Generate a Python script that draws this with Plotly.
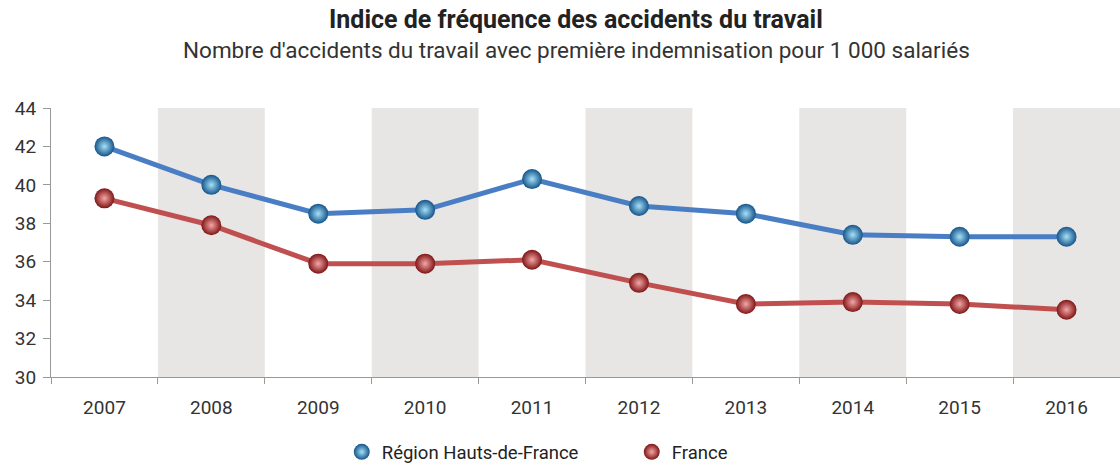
import plotly.graph_objects as go

years = ["2007", "2008", "2009", "2010", "2011", "2012", "2013", "2014", "2015", "2016"]
region = [42.0, 40.0, 38.5, 38.7, 40.3, 38.9, 38.5, 37.4, 37.3, 37.3]
france = [39.3, 37.9, 35.9, 35.9, 36.1, 34.9, 33.8, 33.9, 33.8, 33.5]
y_ticks = [30, 32, 34, 36, 38, 40, 42, 44]

FONT = "Roboto"
BLUE_M = dict(size=20, color="#14548a", gradient=dict(type="radial", color="#a6e0f8"), line=dict(width=0))
RED_M = dict(size=20, color="#7e1516", gradient=dict(type="radial", color="#f6a6a6"), line=dict(width=0))

fig = go.Figure()

fig.add_trace(go.Scatter(
    x=years, y=region, name="Région Hauts-de-France", mode="lines+markers",
    line=dict(color="#4a7ec4", width=5), marker=BLUE_M, showlegend=False,
))
fig.add_trace(go.Scatter(
    x=years, y=france, name="France", mode="lines+markers",
    line=dict(color="#c0504f", width=5), marker=RED_M, showlegend=False,
))
# legend-only entries (markers without line)
fig.add_trace(go.Scatter(x=[None], y=[None], name="Région Hauts-de-France", mode="markers",
                         marker=BLUE_M, showlegend=True))
fig.add_trace(go.Scatter(x=[None], y=[None], name="France", mode="markers",
                         marker=RED_M, showlegend=True))

for i in range(1, len(years), 2):
    fig.add_shape(type="rect", xref="x", yref="paper", x0=i - 0.5, x1=i + 0.5, y0=0, y1=1,
                  fillcolor="#e8e6e4", line=dict(width=0), layer="below")

fig.add_annotation(text="<b>Indice de fréquence des accidents du travail</b>", xref="paper", yref="paper",
                   x=0.4915, y=1, xanchor="center", yanchor="bottom", yshift=72, showarrow=False,
                   font=dict(family=FONT, size=25, color="#222"))
fig.add_annotation(text="Nombre d'accidents du travail avec première indemnisation pour 1 000 salariés",
                   xref="paper", yref="paper", x=0.4915, y=1, xanchor="center", yanchor="bottom", yshift=43,
                   showarrow=False, font=dict(family=FONT, size=22.5, color="#333"))

fig.update_layout(
    width=1120, height=465,
    margin=dict(l=51, r=0, t=108, b=88, autoexpand=False),
    paper_bgcolor="white", plot_bgcolor="white",
    font=dict(family=FONT, size=19, color="#333"),
    showlegend=True,
    legend=dict(orientation="h", x=0.272, xanchor="left", y=-0.28, yanchor="middle",
                font=dict(family=FONT, size=18.5, color="#222"), itemsizing="trace",
                itemwidth=30, entrywidth=245, entrywidthmode="pixels"),
    xaxis=dict(type="category", tickson="boundaries", ticks="outside", ticklen=6, tickcolor="#999",
               showline=True, linecolor="#999", linewidth=1, showgrid=False, range=[-0.5, 9.5],
               tickfont=dict(size=19, color="#333"), ticklabelstandoff=13, automargin=False),
    yaxis=dict(range=[30, 44], tickvals=y_ticks, ticks="outside", ticklen=7, tickcolor="#999",
               showline=True, linecolor="#999", linewidth=1, showgrid=False, zeroline=False,
               tickfont=dict(size=19, color="#333"), ticklabelstandoff=3, automargin=False),
)

fig.write_html("out.html", config={"displayModeBar": False},
               post_script="document.body.style.margin='0';document.body.style.padding='0';")
